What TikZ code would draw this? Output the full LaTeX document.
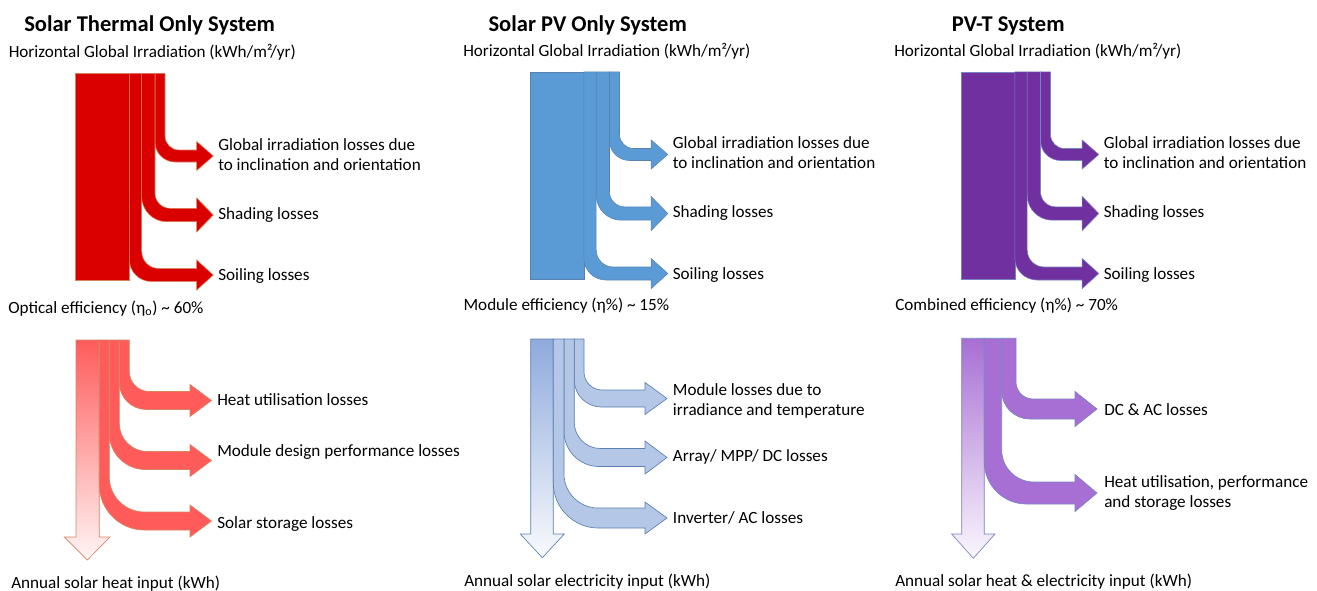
\documentclass[tikz,border=0pt]{standalone}
\usepackage{fontspec}
\setmainfont{Carlito}

\definecolor{thermaltop}{RGB}{218,0,0}
\definecolor{thermalbot}{RGB}{255,91,91}
\definecolor{thermalmain}{RGB}{255,91,91}
\definecolor{thermalline}{RGB}{214,132,96}
\definecolor{pvtop}{RGB}{91,155,213}
\definecolor{pvbot}{RGB}{180,199,231}
\definecolor{pvmain}{RGB}{143,170,220}
\definecolor{pvline}{RGB}{90,128,176}
\definecolor{pvttop}{RGB}{112,48,160}
\definecolor{pvtbot}{RGB}{167,111,212}
\definecolor{pvtmain}{RGB}{167,111,212}
\definecolor{pvtline}{RGB}{118,132,192}

% #1 style, #2 left x, #3 right x, #4 shaft y, #5 half shaft, #6 inner radius, #7 outer radius, #8 half head
\newcommand{\lossarrow}[8]{%
    \draw[#1] (#2,\ytop) -- (#3,\ytop) -- (#3,{#4-#5-#6})
    .. controls (#3,{#4-#5-0.45*#6}) and ({#3+0.45*#6},{#4-#5}) .. ({#3+#6},{#4-#5})
    -- (\xbase,{#4-#5}) -- (\xbase,{#4-#8}) -- (\xtip,#4) -- (\xbase,{#4+#8}) -- (\xbase,{#4+#5})
    -- ({#2+#7},{#4+#5})
    .. controls ({#2+0.45*#7},{#4+#5}) and (#2,{#4+#5-0.45*#7}) .. (#2,{#4+#5-#7}) -- cycle;}

\begin{document}
\begin{tikzpicture}
    [
        x=0.75pt,y=-0.75pt,
        every node/.style={inner sep=0pt,anchor=base west,font=\fontsize{12.85}{15}\selectfont},
        title/.style={font=\fontsize{16.9}{20}\selectfont\bfseries},
        flow/.style={fill=#1top,draw=#1line,line width=0.4pt},
        loss/.style={fill=#1bot,draw=#1line,line width=0.5pt},
        outflow/.style={top color=#1main,middle color=#1main,bottom color=#1main!6!white,draw=#1line,line width=0.5pt},
    ]
    \useasboundingbox (0,0) rectangle (1317,590);
    % The titles
    \node[title] (tthermal) at (24,31.7) {Solar Thermal Only System};
    \node[title] (tpv) at (488.3,31.7) {Solar PV Only System};
    \node[title] (tpvt) at (951.7,31.7) {PV-T System};
    % The irradiation blocks
    \foreach \dx/\dy/\sys in {0/0/thermal,454.5/-1.5/pv,885.5/-1.5/pvt}{
        \begin{scope}[shift={(\dx,\dy)}]
            \def\ytop{73.3}\def\xbase{196.7}\def\xtip{213.3}
            \draw[flow=\sys] (75.7,73.3) rectangle (129.3,280.7);
            \lossarrow{flow=\sys}{155}{165}{156}{6}{14}{20}{14.5}
            \lossarrow{flow=\sys}{141.7}{155}{215}{6.7}{15}{25}{17}
            \lossarrow{flow=\sys}{129.3}{141.7}{275}{6.5}{17}{22}{15}
            \node (irr\sys) at (8.5,57.5) {Horizontal Global Irradiation (kWh/m²/yr)};
            \node (glob\sys) at (218,150) {Global irradiation losses due};
            \node (incl\sys) at (218,170) {to inclination and orientation};
            \node (shad\sys) at (218,219) {Shading losses};
            \node (soil\sys) at (218,280.5) {Soiling losses};
        \end{scope}
    }
    \node (effthermal) at (8,313.3) {Optical efficiency (η\textsubscript{o}) \textasciitilde{} 60\%};
    \node (effpv) at (463.3,310) {Module efficiency (η\%) \textasciitilde{} 15\%};
    \node (effpvt) at (895,310) {Combined efficiency (η\%) \textasciitilde{} 70\%};
    % Solar thermal output
    \def\ytop{340}\def\xbase{190}\def\xtip{211.5}
    \draw[outflow=thermal] (76,340) -- (99.3,340) -- (99.3,537) -- (110,537) -- (87.3,560) -- (64.3,537) -- (76,537) -- cycle;
    \lossarrow{loss=thermal}{119.3}{129.3}{400.5}{9}{20}{27}{16}
    \lossarrow{loss=thermal}{109.3}{119.3}{460.5}{9}{28}{36}{16}
    \lossarrow{loss=thermal}{99.3}{109.3}{521}{9}{35}{45}{16}
    \node (heatu) at (217,405.5) {Heat utilisation losses};
    \node (design) at (217,456.5) {Module design performance losses};
    \node (store) at (217,528) {Solar storage losses};
    \node (heatin) at (11,588) {Annual solar heat input (kWh)};
    % Solar PV output
    \def\ytop{339}\def\xbase{645}\def\xtip{667}
    \draw[outflow=pv] (530.7,339) -- (553.3,339) -- (553.3,534) -- (564.3,534) -- (542.3,557.7) -- (520.3,534) -- (530.7,534) -- cycle;
    \lossarrow{loss=pv}{574.3}{584}{398.5}{8.5}{18}{27}{16}
    \lossarrow{loss=pv}{564}{574.3}{457.5}{9}{26}{35}{16.5}
    \lossarrow{loss=pv}{553.3}{564}{518}{10}{34}{45}{16}
    \node (modl) at (672.7,395) {Module losses due to};
    \node (temp) at (672.7,415) {irradiance and temperature};
    \node (array) at (672.7,461.7) {Array/ MPP/ DC losses};
    \node (inv) at (672.7,523.3) {Inverter/ AC losses};
    \node (elecin) at (464,586.7) {Annual solar electricity input (kWh)};
    % PV-T output
    \def\ytop{338.3}\def\xbase{1075}\def\xtip{1097}
    \draw[outflow=pvt] (961.7,338.3) -- (984.3,338.3) -- (984.3,534) -- (995,534) -- (973.3,558.3) -- (951.7,534) -- (961.7,534) -- cycle;
    \lossarrow{loss=pvt}{1001.7}{1016}{409}{10}{17}{28}{17.5}
    \lossarrow{loss=pvt}{984.3}{1001.7}{493}{11}{32}{42}{18.5}
    \node (dcac) at (1104,415) {DC \& AC losses};
    \node (heatp) at (1104,487.7) {Heat utilisation, performance};
    \node (storp) at (1104,507.7) {and storage losses};
    \node (bothin) at (895,586.7) {Annual solar heat \& electricity input (kWh)};
\end{tikzpicture}
\end{document}
